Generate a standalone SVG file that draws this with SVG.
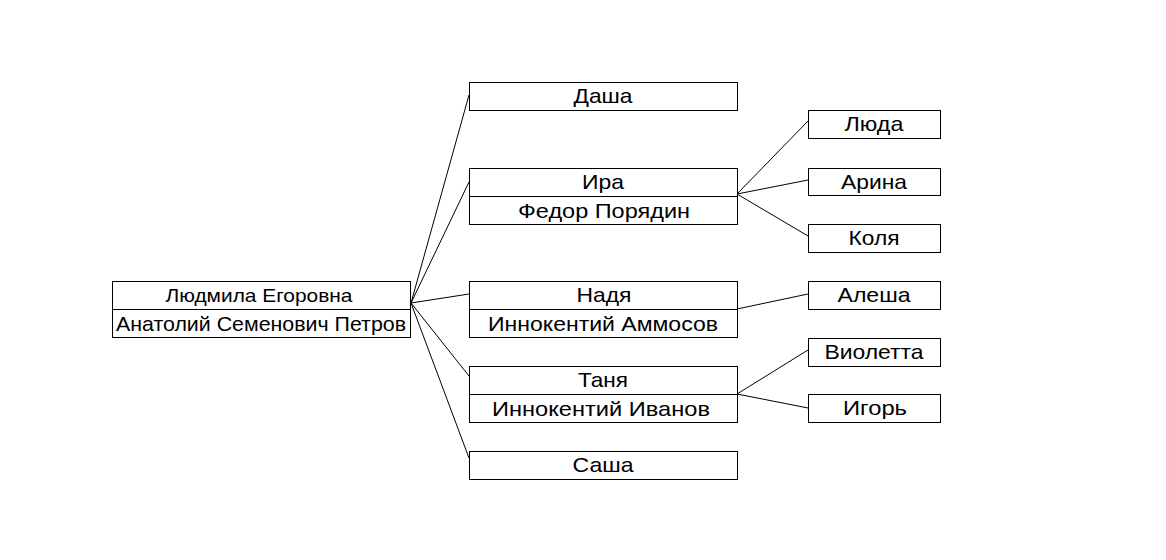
<svg xmlns="http://www.w3.org/2000/svg" width="1166" height="560" viewBox="0 0 1166 560">
<style>
rect{fill:#fff;stroke:#000;stroke-width:1}
.d{stroke:#000;stroke-width:1}
text{font-family:"Liberation Sans",Arial,sans-serif;font-size:21px;fill:#000;text-anchor:middle}
.s{font-size:19px}
#connectors line{stroke:#000;stroke-width:1}
</style>
<rect x="0" y="0" width="1166" height="560" style="stroke:none"/>
<g id="connectors">
<line x1="411" y1="303" x2="469" y2="95"/>
<line x1="411" y1="303" x2="469" y2="182"/>
<line x1="411" y1="303" x2="469" y2="294"/>
<line x1="411" y1="303" x2="469" y2="376"/>
<line x1="411" y1="303" x2="469" y2="458"/>
<line x1="737" y1="194" x2="808" y2="121"/>
<line x1="737" y1="194" x2="808" y2="180"/>
<line x1="737" y1="194" x2="808" y2="236"/>
<line x1="737" y1="309" x2="808" y2="294"/>
<line x1="737" y1="394" x2="808" y2="350"/>
<line x1="737" y1="394" x2="808" y2="408"/>
</g>
<g id="root">
<rect x="112.5" y="281.5" width="298" height="56"/>
<line class="d" x1="112.5" y1="309.5" x2="410.5" y2="309.5"/>
<text class="s" x="259" y="302" textLength="187" lengthAdjust="spacingAndGlyphs">Людмила Егоровна</text>
<text x="261" y="331" textLength="290" lengthAdjust="spacingAndGlyphs">Анатолий Семенович Петров</text>
</g>
<g id="dasha">
<rect x="469.5" y="82.5" width="268" height="28"/>
<text x="603" y="103" textLength="59" lengthAdjust="spacingAndGlyphs">Даша</text>
</g>
<g id="ira">
<rect x="469.5" y="168.5" width="268" height="56"/>
<line class="d" x1="469.5" y1="196.5" x2="737.5" y2="196.5"/>
<text x="603" y="189" textLength="42" lengthAdjust="spacingAndGlyphs">Ира</text>
<text x="604" y="218" textLength="172" lengthAdjust="spacingAndGlyphs">Федор Порядин</text>
</g>
<g id="nadya">
<rect x="469.5" y="281.5" width="268" height="56"/>
<line class="d" x1="469.5" y1="309.5" x2="737.5" y2="309.5"/>
<text x="604" y="302" textLength="55" lengthAdjust="spacingAndGlyphs">Надя</text>
<text x="603" y="331" textLength="230" lengthAdjust="spacingAndGlyphs">Иннокентий Аммосов</text>
</g>
<g id="tanya">
<rect x="469.5" y="366.5" width="268" height="56"/>
<line class="d" x1="469.5" y1="394.5" x2="737.5" y2="394.5"/>
<text x="603" y="387" textLength="50" lengthAdjust="spacingAndGlyphs">Таня</text>
<text x="601" y="416" textLength="218" lengthAdjust="spacingAndGlyphs">Иннокентий Иванов</text>
</g>
<g id="sasha">
<rect x="469.5" y="451.5" width="268" height="28"/>
<text x="603" y="472" textLength="61" lengthAdjust="spacingAndGlyphs">Саша</text>
</g>
<g id="lyuda">
<rect x="808.5" y="110.5" width="132" height="28"/>
<text x="874" y="131" textLength="59" lengthAdjust="spacingAndGlyphs">Люда</text>
</g>
<g id="arina">
<rect x="808.5" y="168.5" width="132" height="27"/>
<text x="874" y="189" textLength="66" lengthAdjust="spacingAndGlyphs">Арина</text>
</g>
<g id="kolya">
<rect x="808.5" y="224.5" width="132" height="28"/>
<text x="874" y="245" textLength="51" lengthAdjust="spacingAndGlyphs">Коля</text>
</g>
<g id="alesha">
<rect x="808.5" y="281.5" width="132" height="28"/>
<text x="874" y="302" textLength="73" lengthAdjust="spacingAndGlyphs">Алеша</text>
</g>
<g id="violetta">
<rect x="808.5" y="338.5" width="132" height="28"/>
<text x="874" y="359" textLength="99" lengthAdjust="spacingAndGlyphs">Виолетта</text>
</g>
<g id="igor">
<rect x="808.5" y="394.5" width="132" height="28"/>
<text x="875" y="415" textLength="64" lengthAdjust="spacingAndGlyphs">Игорь</text>
</g>
</svg>
